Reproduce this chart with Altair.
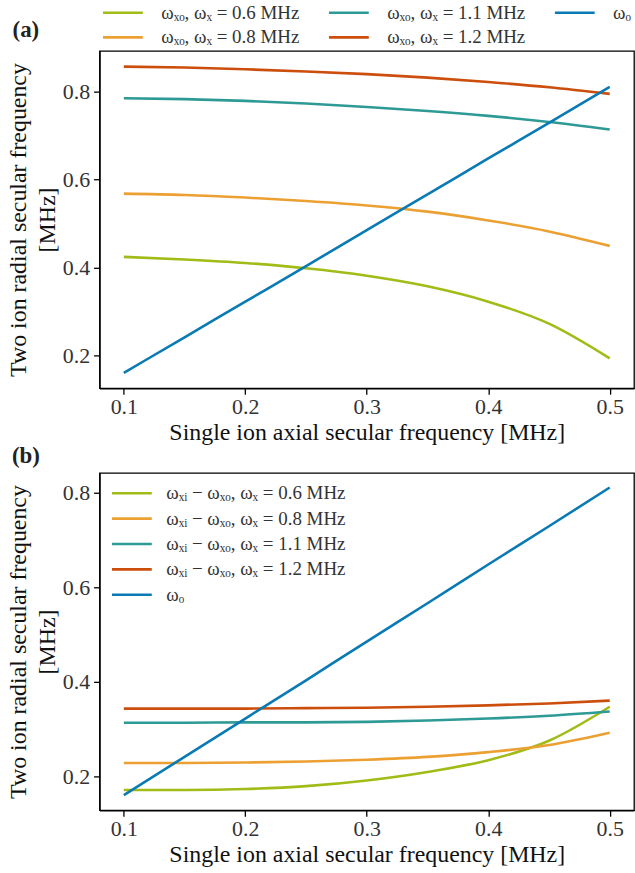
import altair as alt
import pandas as pd

# ---- data ----
xs = [0.10, 0.15, 0.20, 0.25, 0.30, 0.35, 0.40, 0.45, 0.50]

omega_o = [0.160, 0.241, 0.322, 0.403, 0.485, 0.566, 0.648, 0.729, 0.811]

a_06 = [0.424, 0.418, 0.410, 0.398, 0.381, 0.357, 0.322, 0.272, 0.193]
a_08 = [0.568, 0.565, 0.559, 0.551, 0.541, 0.527, 0.507, 0.482, 0.449]
a_11 = [0.785, 0.783, 0.779, 0.773, 0.765, 0.756, 0.745, 0.731, 0.714]
a_12 = [0.857, 0.855, 0.851, 0.846, 0.840, 0.832, 0.822, 0.810, 0.795]

b_06 = [0.171, 0.171, 0.173, 0.179, 0.191, 0.209, 0.234, 0.275, 0.347]
b_08 = [0.228, 0.228, 0.229, 0.231, 0.235, 0.241, 0.251, 0.266, 0.292]
b_11 = [0.313, 0.313, 0.314, 0.314, 0.315, 0.318, 0.322, 0.328, 0.337]
b_12 = [0.343, 0.343, 0.343, 0.344, 0.345, 0.347, 0.350, 0.354, 0.360]

labels_a = ["ωₓₒ, ωₓ = 0.6 MHz", "ωₓₒ, ωₓ = 0.8 MHz",
            "ωₓₒ, ωₓ = 1.1 MHz", "ωₓₒ, ωₓ = 1.2 MHz"]
labels_b = ["ωₓᵢ − ωₓₒ, ωₓ = 0.6 MHz", "ωₓᵢ − ωₓₒ, ωₓ = 0.8 MHz",
            "ωₓᵢ − ωₓₒ, ωₓ = 1.1 MHz", "ωₓᵢ − ωₓₒ, ωₓ = 1.2 MHz"]
label_o = "ωₒ"

c_green, c_orange, c_teal, c_red, c_blue = "#a3bb17", "#eca032", "#2e9a96", "#cc4e0c", "#0a7ab4"
curve_colors = [c_green, c_orange, c_teal, c_red]

x_ticks = [0.1, 0.2, 0.3, 0.4, 0.5]
y_ticks = [0.2, 0.4, 0.6, 0.8]

FONT = "Liberation Serif"
W, H = 537, 339


def long_df(labels, series):
    rows = []
    for k, (lab, vals) in enumerate(zip(labels + [label_o], series + [omega_o])):
        for x, y in zip(xs, vals):
            rows.append({"x": x, "y": y, "series": lab, "k": k})
    return pd.DataFrame(rows)


def panel(labels, series, ydom, legend, tag, tag_y, spacer):
    df = long_df(labels, series)
    dom = labels + [label_o]
    rng = curve_colors + [c_blue]
    common = dict(title=None, symbolType="M-4,0H4", symbolSize=100,
                  symbolStrokeWidth=2.6, labelFontSize=19, labelFont=FONT,
                  labelColor="#333333", padding=0, labelLimit=400)
    if legend == "top":
        leg = alt.Legend(orient="none", legendX=14, legendY=-48, columns=3,
                         columnPadding=24, rowPadding=5, labelOffset=29, **common)
    else:
        leg = alt.Legend(orient="none", legendX=23, legendY=11, rowPadding=5.5,
                         labelOffset=25, **common)
    color = alt.Color("series:N", scale=alt.Scale(domain=dom, range=rng), legend=leg)
    xenc = alt.X("x:Q", scale=alt.Scale(domain=[0.08, 0.52], nice=False, zero=False),
                 axis=alt.Axis(values=x_ticks, format=".1f",
                               title="Single ion axial secular frequency [MHz]"))
    yenc = alt.Y("y:Q", scale=alt.Scale(domain=ydom, nice=False, zero=False),
                 axis=alt.Axis(values=y_ticks, format=".1f",
                               title=["Two ion radial secular frequency", "[MHz]"]))
    base = alt.Chart(df)
    curves = base.transform_filter(alt.datum.k < 4).mark_line(
        strokeWidth=2.6, interpolate="monotone").encode(x=xenc, y=yenc, color=color)
    om = base.transform_filter(alt.datum.k == 4).mark_line(
        strokeWidth=2.6, interpolate="monotone").encode(x=xenc, y=yenc, color=color)
    tagt = alt.Chart(alt.Data(values=[{"t": tag}])).mark_text(
        font=FONT, fontSize=23, fontWeight="bold", align="center", baseline="middle",
        color="#222222").encode(text="t:N", x=alt.value(-74), y=alt.value(tag_y))
    # invisible layout spacer fixing the page margins
    sp = alt.Chart(alt.Data(values=[{"s": 1}])).mark_rule(
        strokeOpacity=0, strokeWidth=0).encode(
        x=alt.value(-99), x2=alt.value(-99),
        y=alt.value(spacer[0]), y2=alt.value(spacer[1]))
    return alt.layer(curves, om, tagt, sp).properties(width=W, height=H)


top = panel(labels_a, [a_06, a_08, a_11, a_12], [0.125, 0.893], "top", "(a)", -21,
            (-48, 0))
bot = panel(labels_b, [b_06, b_08, b_11, b_12], [0.128, 0.842], "inside", "(b)", -17,
            (0, H + 62))

chart = alt.vconcat(top, bot, spacing=85, bounds="flush").resolve_scale(
    color="independent").properties(
    padding={"left": 0, "top": 0, "right": 0, "bottom": 0},
).configure(font=FONT).configure_view(
    stroke="black", strokeWidth=1.3
).configure_axis(
    domainColor="black", domainWidth=1.3, tickColor="black", tickWidth=1.3,
    tickSize=6, labelFont=FONT, labelFontSize=22, labelColor="#333333",
    labelPadding=4, titleFont=FONT, titleFontSize=24, titleFontWeight="normal",
    titleColor="#111111", grid=False,
).configure_axisX(titlePadding=4, labelPadding=2).configure_axisY(
    titlePadding=3, titleLineHeight=29)

chart.save("out.html", embed_options={"renderer": "svg", "actions": False})
